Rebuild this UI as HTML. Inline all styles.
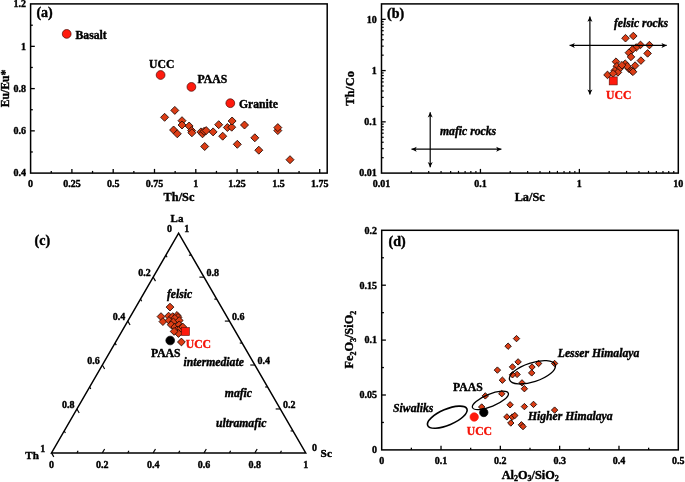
<!DOCTYPE html>
<html><head><meta charset="utf-8"><title>Geochemical plots</title>
<style>html,body{margin:0;padding:0;background:#fff}svg{display:block}</style></head>
<body><svg width="685" height="482" viewBox="0 0 685 482" font-family="Liberation Serif, Times New Roman, serif" font-weight="bold">
<rect width="685" height="482" fill="#fff"/>
<rect x="30.6" y="3.9" width="296.59999999999997" height="169.2" fill="none" stroke="#000" stroke-width="1.5"/>
<text x="30.60" y="187.00" font-size="10" text-anchor="middle" fill="#000" stroke="#000" stroke-width="0.4">0</text>
<line x1="51.25" y1="173.10" x2="51.25" y2="170.90" stroke="#000" stroke-width="1.3"/>
<line x1="71.90" y1="173.10" x2="71.90" y2="168.90" stroke="#000" stroke-width="1.3"/>
<text x="71.90" y="187.00" font-size="10" text-anchor="middle" fill="#000" stroke="#000" stroke-width="0.4">0.25</text>
<line x1="92.55" y1="173.10" x2="92.55" y2="170.90" stroke="#000" stroke-width="1.3"/>
<line x1="113.20" y1="173.10" x2="113.20" y2="168.90" stroke="#000" stroke-width="1.3"/>
<text x="113.20" y="187.00" font-size="10" text-anchor="middle" fill="#000" stroke="#000" stroke-width="0.4">0.5</text>
<line x1="133.85" y1="173.10" x2="133.85" y2="170.90" stroke="#000" stroke-width="1.3"/>
<line x1="154.50" y1="173.10" x2="154.50" y2="168.90" stroke="#000" stroke-width="1.3"/>
<text x="154.50" y="187.00" font-size="10" text-anchor="middle" fill="#000" stroke="#000" stroke-width="0.4">0.75</text>
<line x1="175.15" y1="173.10" x2="175.15" y2="170.90" stroke="#000" stroke-width="1.3"/>
<line x1="195.80" y1="173.10" x2="195.80" y2="168.90" stroke="#000" stroke-width="1.3"/>
<text x="195.80" y="187.00" font-size="10" text-anchor="middle" fill="#000" stroke="#000" stroke-width="0.4">1</text>
<line x1="216.45" y1="173.10" x2="216.45" y2="170.90" stroke="#000" stroke-width="1.3"/>
<line x1="237.10" y1="173.10" x2="237.10" y2="168.90" stroke="#000" stroke-width="1.3"/>
<text x="237.10" y="187.00" font-size="10" text-anchor="middle" fill="#000" stroke="#000" stroke-width="0.4">1.25</text>
<line x1="257.75" y1="173.10" x2="257.75" y2="170.90" stroke="#000" stroke-width="1.3"/>
<line x1="278.40" y1="173.10" x2="278.40" y2="168.90" stroke="#000" stroke-width="1.3"/>
<text x="278.40" y="187.00" font-size="10" text-anchor="middle" fill="#000" stroke="#000" stroke-width="0.4">1.5</text>
<line x1="299.05" y1="173.10" x2="299.05" y2="170.90" stroke="#000" stroke-width="1.3"/>
<line x1="319.70" y1="173.10" x2="319.70" y2="168.90" stroke="#000" stroke-width="1.3"/>
<text x="319.70" y="187.00" font-size="10" text-anchor="middle" fill="#000" stroke="#000" stroke-width="0.4">1.75</text>
<text x="26.00" y="176.40" font-size="10" text-anchor="end" fill="#000" stroke="#000" stroke-width="0.4">0.4</text>
<line x1="30.60" y1="151.97" x2="32.80" y2="151.97" stroke="#000" stroke-width="1.3"/>
<line x1="30.60" y1="130.85" x2="34.80" y2="130.85" stroke="#000" stroke-width="1.3"/>
<text x="26.00" y="134.15" font-size="10" text-anchor="end" fill="#000" stroke="#000" stroke-width="0.4">0.6</text>
<line x1="30.60" y1="109.72" x2="32.80" y2="109.72" stroke="#000" stroke-width="1.3"/>
<line x1="30.60" y1="88.60" x2="34.80" y2="88.60" stroke="#000" stroke-width="1.3"/>
<text x="26.00" y="91.90" font-size="10" text-anchor="end" fill="#000" stroke="#000" stroke-width="0.4">0.8</text>
<line x1="30.60" y1="67.47" x2="32.80" y2="67.47" stroke="#000" stroke-width="1.3"/>
<line x1="30.60" y1="46.35" x2="34.80" y2="46.35" stroke="#000" stroke-width="1.3"/>
<text x="26.00" y="49.65" font-size="10" text-anchor="end" fill="#000" stroke="#000" stroke-width="0.4">1</text>
<line x1="30.60" y1="25.22" x2="32.80" y2="25.22" stroke="#000" stroke-width="1.3"/>
<text x="26.00" y="7.40" font-size="10" text-anchor="end" fill="#000" stroke="#000" stroke-width="0.4">1.2</text>
<text x="0.00" y="0.00" font-size="11.7" text-anchor="middle" fill="#000" stroke="#000" stroke-width="0.4" transform="translate(8.5 88.4) rotate(-90)">Eu/Eu*</text>
<text x="179.00" y="200.80" font-size="12.3" text-anchor="middle" fill="#000" stroke="#000" stroke-width="0.4">Th/Sc</text>
<text x="36.40" y="17.40" font-size="14" text-anchor="start" fill="#000" stroke="#000" stroke-width="0.4">(a)</text>
<circle cx="66.7" cy="33.9" r="4.4" fill="#ff1a0d" stroke="#4a0a05" stroke-width="0.7"/>
<text x="75.50" y="39.20" font-size="11.7" text-anchor="start" fill="#000" stroke="#000" stroke-width="0.4">Basalt</text>
<circle cx="160.6" cy="75.0" r="4.4" fill="#ff1a0d" stroke="#4a0a05" stroke-width="0.7"/>
<text x="149.00" y="67.90" font-size="11.7" text-anchor="start" fill="#000" stroke="#000" stroke-width="0.4">UCC</text>
<circle cx="191.4" cy="86.9" r="4.4" fill="#ff1a0d" stroke="#4a0a05" stroke-width="0.7"/>
<text x="197.50" y="83.00" font-size="11.7" text-anchor="start" fill="#000" stroke="#000" stroke-width="0.4">PAAS</text>
<circle cx="230.3" cy="103.2" r="4.4" fill="#ff1a0d" stroke="#4a0a05" stroke-width="0.7"/>
<text x="239.00" y="108.00" font-size="11.7" text-anchor="start" fill="#000" stroke="#000" stroke-width="0.4">Granite</text>
<path d="M164.6 113.3L168.6 117.3L164.6 121.3L160.6 117.3Z" fill="#dc3d15" stroke="#1e0803" stroke-width="0.85"/>
<path d="M174.8 106.4L178.8 110.4L174.8 114.4L170.8 110.4Z" fill="#dc3d15" stroke="#1e0803" stroke-width="0.85"/>
<path d="M173.6 126.0L177.6 130.0L173.6 134.0L169.6 130.0Z" fill="#dc3d15" stroke="#1e0803" stroke-width="0.85"/>
<path d="M177.3 129.8L181.3 133.8L177.3 137.8L173.3 133.8Z" fill="#dc3d15" stroke="#1e0803" stroke-width="0.85"/>
<path d="M182.0 116.7L186.0 120.7L182.0 124.7L178.0 120.7Z" fill="#dc3d15" stroke="#1e0803" stroke-width="0.85"/>
<path d="M182.0 121.0L186.0 125.0L182.0 129.0L178.0 125.0Z" fill="#dc3d15" stroke="#1e0803" stroke-width="0.85"/>
<path d="M189.1 122.0L193.1 126.0L189.1 130.0L185.1 126.0Z" fill="#dc3d15" stroke="#1e0803" stroke-width="0.85"/>
<path d="M191.6 126.6L195.6 130.6L191.6 134.6L187.6 130.6Z" fill="#dc3d15" stroke="#1e0803" stroke-width="0.85"/>
<path d="M191.9 128.8L195.9 132.8L191.9 136.8L187.9 132.8Z" fill="#dc3d15" stroke="#1e0803" stroke-width="0.85"/>
<path d="M201.0 127.9L205.0 131.9L201.0 135.9L197.0 131.9Z" fill="#dc3d15" stroke="#1e0803" stroke-width="0.85"/>
<path d="M202.5 129.8L206.5 133.8L202.5 137.8L198.5 133.8Z" fill="#dc3d15" stroke="#1e0803" stroke-width="0.85"/>
<path d="M204.1 127.3L208.1 131.3L204.1 135.3L200.1 131.3Z" fill="#dc3d15" stroke="#1e0803" stroke-width="0.85"/>
<path d="M206.2 126.6L210.2 130.6L206.2 134.6L202.2 130.6Z" fill="#dc3d15" stroke="#1e0803" stroke-width="0.85"/>
<path d="M204.7 142.5L208.7 146.5L204.7 150.5L200.7 146.5Z" fill="#dc3d15" stroke="#1e0803" stroke-width="0.85"/>
<path d="M213.1 127.9L217.1 131.9L213.1 135.9L209.1 131.9Z" fill="#dc3d15" stroke="#1e0803" stroke-width="0.85"/>
<path d="M218.7 120.7L222.7 124.7L218.7 128.7L214.7 124.7Z" fill="#dc3d15" stroke="#1e0803" stroke-width="0.85"/>
<path d="M222.7 132.2L226.7 136.2L222.7 140.2L218.7 136.2Z" fill="#dc3d15" stroke="#1e0803" stroke-width="0.85"/>
<path d="M227.4 123.5L231.4 127.5L227.4 131.5L223.4 127.5Z" fill="#dc3d15" stroke="#1e0803" stroke-width="0.85"/>
<path d="M231.7 123.2L235.7 127.2L231.7 131.2L227.7 127.2Z" fill="#dc3d15" stroke="#1e0803" stroke-width="0.85"/>
<path d="M232.1 117.0L236.1 121.0L232.1 125.0L228.1 121.0Z" fill="#dc3d15" stroke="#1e0803" stroke-width="0.85"/>
<path d="M237.3 140.3L241.3 144.3L237.3 148.3L233.3 144.3Z" fill="#dc3d15" stroke="#1e0803" stroke-width="0.85"/>
<path d="M244.5 121.0L248.5 125.0L244.5 129.0L240.5 125.0Z" fill="#dc3d15" stroke="#1e0803" stroke-width="0.85"/>
<path d="M254.8 133.8L258.8 137.8L254.8 141.8L250.8 137.8Z" fill="#dc3d15" stroke="#1e0803" stroke-width="0.85"/>
<path d="M258.8 146.2L262.8 150.2L258.8 154.2L254.8 150.2Z" fill="#dc3d15" stroke="#1e0803" stroke-width="0.85"/>
<path d="M277.8 126.6L281.8 130.6L277.8 134.6L273.8 130.6Z" fill="#dc3d15" stroke="#1e0803" stroke-width="0.85"/>
<path d="M277.8 123.6L281.8 127.6L277.8 131.6L273.8 127.6Z" fill="#dc3d15" stroke="#1e0803" stroke-width="0.85"/>
<path d="M290.0 155.7L294.0 159.7L290.0 163.7L286.0 159.7Z" fill="#dc3d15" stroke="#1e0803" stroke-width="0.85"/>
<rect x="381.5" y="3.9" width="296.79999999999995" height="169.2" fill="none" stroke="#000" stroke-width="1.5"/>
<text x="381.50" y="187.00" font-size="10" text-anchor="middle" fill="#000" stroke="#000" stroke-width="0.4">0.01</text>
<line x1="411.28" y1="173.10" x2="411.28" y2="170.90" stroke="#000" stroke-width="1.2"/>
<line x1="428.70" y1="173.10" x2="428.70" y2="170.90" stroke="#000" stroke-width="1.2"/>
<line x1="441.06" y1="173.10" x2="441.06" y2="170.90" stroke="#000" stroke-width="1.2"/>
<line x1="450.65" y1="173.10" x2="450.65" y2="170.90" stroke="#000" stroke-width="1.2"/>
<line x1="458.49" y1="173.10" x2="458.49" y2="170.90" stroke="#000" stroke-width="1.2"/>
<line x1="465.11" y1="173.10" x2="465.11" y2="170.90" stroke="#000" stroke-width="1.2"/>
<line x1="470.85" y1="173.10" x2="470.85" y2="170.90" stroke="#000" stroke-width="1.2"/>
<line x1="475.91" y1="173.10" x2="475.91" y2="170.90" stroke="#000" stroke-width="1.2"/>
<line x1="480.43" y1="173.10" x2="480.43" y2="168.90" stroke="#000" stroke-width="1.3"/>
<text x="480.43" y="187.00" font-size="10" text-anchor="middle" fill="#000" stroke="#000" stroke-width="0.4">0.1</text>
<line x1="510.22" y1="173.10" x2="510.22" y2="170.90" stroke="#000" stroke-width="1.2"/>
<line x1="527.64" y1="173.10" x2="527.64" y2="170.90" stroke="#000" stroke-width="1.2"/>
<line x1="540.00" y1="173.10" x2="540.00" y2="170.90" stroke="#000" stroke-width="1.2"/>
<line x1="549.58" y1="173.10" x2="549.58" y2="170.90" stroke="#000" stroke-width="1.2"/>
<line x1="557.42" y1="173.10" x2="557.42" y2="170.90" stroke="#000" stroke-width="1.2"/>
<line x1="564.04" y1="173.10" x2="564.04" y2="170.90" stroke="#000" stroke-width="1.2"/>
<line x1="569.78" y1="173.10" x2="569.78" y2="170.90" stroke="#000" stroke-width="1.2"/>
<line x1="574.84" y1="173.10" x2="574.84" y2="170.90" stroke="#000" stroke-width="1.2"/>
<line x1="579.37" y1="173.10" x2="579.37" y2="168.90" stroke="#000" stroke-width="1.3"/>
<text x="579.37" y="187.00" font-size="10" text-anchor="middle" fill="#000" stroke="#000" stroke-width="0.4">1</text>
<line x1="609.15" y1="173.10" x2="609.15" y2="170.90" stroke="#000" stroke-width="1.2"/>
<line x1="626.57" y1="173.10" x2="626.57" y2="170.90" stroke="#000" stroke-width="1.2"/>
<line x1="638.93" y1="173.10" x2="638.93" y2="170.90" stroke="#000" stroke-width="1.2"/>
<line x1="648.52" y1="173.10" x2="648.52" y2="170.90" stroke="#000" stroke-width="1.2"/>
<line x1="656.35" y1="173.10" x2="656.35" y2="170.90" stroke="#000" stroke-width="1.2"/>
<line x1="662.98" y1="173.10" x2="662.98" y2="170.90" stroke="#000" stroke-width="1.2"/>
<line x1="668.71" y1="173.10" x2="668.71" y2="170.90" stroke="#000" stroke-width="1.2"/>
<line x1="673.77" y1="173.10" x2="673.77" y2="170.90" stroke="#000" stroke-width="1.2"/>
<text x="678.30" y="187.00" font-size="10" text-anchor="middle" fill="#000" stroke="#000" stroke-width="0.4">10</text>
<text x="376.80" y="176.40" font-size="10" text-anchor="end" fill="#000" stroke="#000" stroke-width="0.4">0.01</text>
<line x1="381.50" y1="157.67" x2="383.70" y2="157.67" stroke="#000" stroke-width="1.2"/>
<line x1="381.50" y1="148.64" x2="383.70" y2="148.64" stroke="#000" stroke-width="1.2"/>
<line x1="381.50" y1="142.24" x2="383.70" y2="142.24" stroke="#000" stroke-width="1.2"/>
<line x1="381.50" y1="137.27" x2="383.70" y2="137.27" stroke="#000" stroke-width="1.2"/>
<line x1="381.50" y1="133.21" x2="383.70" y2="133.21" stroke="#000" stroke-width="1.2"/>
<line x1="381.50" y1="129.78" x2="383.70" y2="129.78" stroke="#000" stroke-width="1.2"/>
<line x1="381.50" y1="126.81" x2="383.70" y2="126.81" stroke="#000" stroke-width="1.2"/>
<line x1="381.50" y1="124.19" x2="383.70" y2="124.19" stroke="#000" stroke-width="1.2"/>
<line x1="381.50" y1="121.84" x2="385.70" y2="121.84" stroke="#000" stroke-width="1.3"/>
<text x="376.80" y="125.14" font-size="10" text-anchor="end" fill="#000" stroke="#000" stroke-width="0.4">0.1</text>
<line x1="381.50" y1="106.41" x2="383.70" y2="106.41" stroke="#000" stroke-width="1.2"/>
<line x1="381.50" y1="97.39" x2="383.70" y2="97.39" stroke="#000" stroke-width="1.2"/>
<line x1="381.50" y1="90.98" x2="383.70" y2="90.98" stroke="#000" stroke-width="1.2"/>
<line x1="381.50" y1="86.02" x2="383.70" y2="86.02" stroke="#000" stroke-width="1.2"/>
<line x1="381.50" y1="81.96" x2="383.70" y2="81.96" stroke="#000" stroke-width="1.2"/>
<line x1="381.50" y1="78.53" x2="383.70" y2="78.53" stroke="#000" stroke-width="1.2"/>
<line x1="381.50" y1="75.55" x2="383.70" y2="75.55" stroke="#000" stroke-width="1.2"/>
<line x1="381.50" y1="72.93" x2="383.70" y2="72.93" stroke="#000" stroke-width="1.2"/>
<line x1="381.50" y1="70.59" x2="385.70" y2="70.59" stroke="#000" stroke-width="1.3"/>
<text x="376.80" y="73.89" font-size="10" text-anchor="end" fill="#000" stroke="#000" stroke-width="0.4">1</text>
<line x1="381.50" y1="55.16" x2="383.70" y2="55.16" stroke="#000" stroke-width="1.2"/>
<line x1="381.50" y1="46.13" x2="383.70" y2="46.13" stroke="#000" stroke-width="1.2"/>
<line x1="381.50" y1="39.73" x2="383.70" y2="39.73" stroke="#000" stroke-width="1.2"/>
<line x1="381.50" y1="34.76" x2="383.70" y2="34.76" stroke="#000" stroke-width="1.2"/>
<line x1="381.50" y1="30.70" x2="383.70" y2="30.70" stroke="#000" stroke-width="1.2"/>
<line x1="381.50" y1="27.27" x2="383.70" y2="27.27" stroke="#000" stroke-width="1.2"/>
<line x1="381.50" y1="24.30" x2="383.70" y2="24.30" stroke="#000" stroke-width="1.2"/>
<line x1="381.50" y1="21.68" x2="383.70" y2="21.68" stroke="#000" stroke-width="1.2"/>
<line x1="381.50" y1="19.33" x2="385.70" y2="19.33" stroke="#000" stroke-width="1.3"/>
<text x="376.80" y="22.63" font-size="10" text-anchor="end" fill="#000" stroke="#000" stroke-width="0.4">10</text>
<text x="0.00" y="0.00" font-size="12.3" text-anchor="middle" fill="#000" stroke="#000" stroke-width="0.4" letter-spacing="0.3" transform="translate(354.2 88.2) rotate(-90)">Th/Co</text>
<text x="529.70" y="200.90" font-size="12.3" text-anchor="middle" fill="#000" stroke="#000" stroke-width="0.4">La/Sc</text>
<text x="387.00" y="18.00" font-size="14" text-anchor="start" fill="#000" stroke="#000" stroke-width="0.4">(b)</text>
<line x1="430.20" y1="112.20" x2="430.20" y2="167.30" stroke="#000" stroke-width="1.2"/>
<path d="M430.20 112.20L427.70 117.40L430.20 116.10L432.70 117.40Z" fill="#000"/>
<path d="M430.20 167.30L432.70 162.10L430.20 163.40L427.70 162.10Z" fill="#000"/>
<line x1="411.50" y1="149.20" x2="501.40" y2="149.20" stroke="#000" stroke-width="1.2"/>
<path d="M411.50 149.20L416.70 151.70L415.40 149.20L416.70 146.70Z" fill="#000"/>
<path d="M501.40 149.20L496.20 146.70L497.50 149.20L496.20 151.70Z" fill="#000"/>
<text x="440.00" y="135.40" font-size="11.7" text-anchor="start" fill="#000" stroke="#000" stroke-width="0.4" font-style="italic">mafic rocks</text>
<text x="613.90" y="26.60" font-size="11.7" text-anchor="start" fill="#000" stroke="#000" stroke-width="0.4" font-style="italic">felsic rocks</text>
<path d="M625.5 34.4L629.3 38.2L625.5 42.0L621.7 38.2Z" fill="#dc3d15" stroke="#1e0803" stroke-width="0.85"/>
<path d="M633.3 32.2L637.1 36.0L633.3 39.8L629.5 36.0Z" fill="#dc3d15" stroke="#1e0803" stroke-width="0.85"/>
<path d="M640.5 41.1L644.3 44.9L640.5 48.7L636.7 44.9Z" fill="#dc3d15" stroke="#1e0803" stroke-width="0.85"/>
<path d="M649.4 41.3L653.2 45.1L649.4 48.9L645.6 45.1Z" fill="#dc3d15" stroke="#1e0803" stroke-width="0.85"/>
<path d="M636.2 43.7L640.0 47.5L636.2 51.3L632.4 47.5Z" fill="#dc3d15" stroke="#1e0803" stroke-width="0.85"/>
<path d="M632.4 45.8L636.2 49.6L632.4 53.4L628.6 49.6Z" fill="#dc3d15" stroke="#1e0803" stroke-width="0.85"/>
<path d="M628.9 48.9L632.7 52.7L628.9 56.5L625.1 52.7Z" fill="#dc3d15" stroke="#1e0803" stroke-width="0.85"/>
<path d="M647.6 49.6L651.4 53.4L647.6 57.2L643.8 53.4Z" fill="#dc3d15" stroke="#1e0803" stroke-width="0.85"/>
<path d="M631.0 53.1L634.8 56.9L631.0 60.7L627.2 56.9Z" fill="#dc3d15" stroke="#1e0803" stroke-width="0.85"/>
<path d="M640.9 56.8L644.7 60.6L640.9 64.4L637.1 60.6Z" fill="#dc3d15" stroke="#1e0803" stroke-width="0.85"/>
<path d="M616.0 57.9L619.8 61.7L616.0 65.5L612.2 61.7Z" fill="#dc3d15" stroke="#1e0803" stroke-width="0.85"/>
<path d="M625.2 59.9L629.0 63.7L625.2 67.5L621.4 63.7Z" fill="#dc3d15" stroke="#1e0803" stroke-width="0.85"/>
<path d="M635.1 61.8L638.9 65.6L635.1 69.4L631.3 65.6Z" fill="#dc3d15" stroke="#1e0803" stroke-width="0.85"/>
<path d="M616.9 62.4L620.7 66.2L616.9 70.0L613.1 66.2Z" fill="#dc3d15" stroke="#1e0803" stroke-width="0.85"/>
<path d="M620.0 64.5L623.8 68.3L620.0 72.1L616.2 68.3Z" fill="#dc3d15" stroke="#1e0803" stroke-width="0.85"/>
<path d="M628.9 64.9L632.7 68.7L628.9 72.5L625.1 68.7Z" fill="#dc3d15" stroke="#1e0803" stroke-width="0.85"/>
<path d="M614.8 66.6L618.6 70.4L614.8 74.2L611.0 70.4Z" fill="#dc3d15" stroke="#1e0803" stroke-width="0.85"/>
<path d="M631.8 67.0L635.6 70.8L631.8 74.6L628.0 70.8Z" fill="#dc3d15" stroke="#1e0803" stroke-width="0.85"/>
<path d="M617.9 68.6L621.7 72.4L617.9 76.2L614.1 72.4Z" fill="#dc3d15" stroke="#1e0803" stroke-width="0.85"/>
<path d="M607.5 71.1L611.3 74.9L607.5 78.7L603.7 74.9Z" fill="#dc3d15" stroke="#1e0803" stroke-width="0.85"/>
<path d="M613.1 69.7L616.9 73.5L613.1 77.3L609.3 73.5Z" fill="#dc3d15" stroke="#1e0803" stroke-width="0.85"/>
<path d="M627.2 62.4L631.0 66.2L627.2 70.0L623.4 66.2Z" fill="#dc3d15" stroke="#1e0803" stroke-width="0.85"/>
<path d="M622.0 61.4L625.8 65.2L622.0 69.0L618.2 65.2Z" fill="#dc3d15" stroke="#1e0803" stroke-width="0.85"/>
<path d="M633.0 68.0L636.8 71.8L633.0 75.6L629.2 71.8Z" fill="#dc3d15" stroke="#1e0803" stroke-width="0.85"/>
<line x1="589.90" y1="16.60" x2="589.90" y2="94.60" stroke="#000" stroke-width="1.2"/>
<path d="M589.90 16.60L587.40 21.80L589.90 20.50L592.40 21.80Z" fill="#000"/>
<path d="M589.90 94.60L592.40 89.40L589.90 90.70L587.40 89.40Z" fill="#000"/>
<line x1="569.60" y1="45.40" x2="666.70" y2="45.40" stroke="#000" stroke-width="1.2"/>
<path d="M569.60 45.40L574.80 47.90L573.50 45.40L574.80 42.90Z" fill="#000"/>
<path d="M666.70 45.40L661.50 42.90L662.80 45.40L661.50 47.90Z" fill="#000"/>
<rect x="609.2" y="76.9" width="8.0" height="8.0" fill="#ff1a0d" stroke="#5a1008" stroke-width="0.6"/>
<text x="606.00" y="98.60" font-size="11.7" text-anchor="start" fill="#f5160a" stroke="#f5160a" stroke-width="0.4">UCC</text>
<path d="M51.5 452.9L305.7 452.9L178.6 233.2Z" fill="none" stroke="#000" stroke-width="1.5" stroke-linejoin="miter"/>
<text x="51.50" y="468.00" font-size="10" text-anchor="middle" fill="#000" stroke="#000" stroke-width="0.4">0</text>
<line x1="76.92" y1="452.90" x2="78.12" y2="450.82" stroke="#000" stroke-width="1.15"/>
<line x1="165.89" y1="255.17" x2="167.09" y2="257.25" stroke="#000" stroke-width="1.15"/>
<line x1="292.99" y1="430.93" x2="290.59" y2="430.93" stroke="#000" stroke-width="1.15"/>
<line x1="102.34" y1="452.90" x2="104.64" y2="448.92" stroke="#000" stroke-width="1.15"/>
<text x="102.34" y="468.00" font-size="10" text-anchor="middle" fill="#000" stroke="#000" stroke-width="0.4">0.2</text>
<line x1="153.18" y1="277.14" x2="155.48" y2="281.12" stroke="#000" stroke-width="1.15"/>
<text x="150.68" y="275.84" font-size="10" text-anchor="end" fill="#000" stroke="#000" stroke-width="0.4">0.2</text>
<line x1="280.28" y1="408.96" x2="275.68" y2="408.96" stroke="#000" stroke-width="1.15"/>
<text x="282.88" y="407.96" font-size="10" text-anchor="start" fill="#000" stroke="#000" stroke-width="0.4">0.2</text>
<line x1="127.76" y1="452.90" x2="128.96" y2="450.82" stroke="#000" stroke-width="1.15"/>
<line x1="140.47" y1="299.11" x2="141.67" y2="301.19" stroke="#000" stroke-width="1.15"/>
<line x1="267.57" y1="386.99" x2="265.17" y2="386.99" stroke="#000" stroke-width="1.15"/>
<line x1="153.18" y1="452.90" x2="155.48" y2="448.92" stroke="#000" stroke-width="1.15"/>
<text x="153.18" y="468.00" font-size="10" text-anchor="middle" fill="#000" stroke="#000" stroke-width="0.4">0.4</text>
<line x1="127.76" y1="321.08" x2="130.06" y2="325.06" stroke="#000" stroke-width="1.15"/>
<text x="125.26" y="319.78" font-size="10" text-anchor="end" fill="#000" stroke="#000" stroke-width="0.4">0.4</text>
<line x1="254.86" y1="365.02" x2="250.26" y2="365.02" stroke="#000" stroke-width="1.15"/>
<text x="257.46" y="364.02" font-size="10" text-anchor="start" fill="#000" stroke="#000" stroke-width="0.4">0.4</text>
<line x1="178.60" y1="452.90" x2="179.80" y2="450.82" stroke="#000" stroke-width="1.15"/>
<line x1="115.05" y1="343.05" x2="116.25" y2="345.13" stroke="#000" stroke-width="1.15"/>
<line x1="242.15" y1="343.05" x2="239.75" y2="343.05" stroke="#000" stroke-width="1.15"/>
<line x1="204.02" y1="452.90" x2="206.32" y2="448.92" stroke="#000" stroke-width="1.15"/>
<text x="204.02" y="468.00" font-size="10" text-anchor="middle" fill="#000" stroke="#000" stroke-width="0.4">0.6</text>
<line x1="102.34" y1="365.02" x2="104.64" y2="369.00" stroke="#000" stroke-width="1.15"/>
<text x="99.84" y="363.72" font-size="10" text-anchor="end" fill="#000" stroke="#000" stroke-width="0.4">0.6</text>
<line x1="229.44" y1="321.08" x2="224.84" y2="321.08" stroke="#000" stroke-width="1.15"/>
<text x="232.04" y="320.08" font-size="10" text-anchor="start" fill="#000" stroke="#000" stroke-width="0.4">0.6</text>
<line x1="229.44" y1="452.90" x2="230.64" y2="450.82" stroke="#000" stroke-width="1.15"/>
<line x1="89.63" y1="386.99" x2="90.83" y2="389.07" stroke="#000" stroke-width="1.15"/>
<line x1="216.73" y1="299.11" x2="214.33" y2="299.11" stroke="#000" stroke-width="1.15"/>
<line x1="254.86" y1="452.90" x2="257.16" y2="448.92" stroke="#000" stroke-width="1.15"/>
<text x="254.86" y="468.00" font-size="10" text-anchor="middle" fill="#000" stroke="#000" stroke-width="0.4">0.8</text>
<line x1="76.92" y1="408.96" x2="79.22" y2="412.94" stroke="#000" stroke-width="1.15"/>
<text x="74.42" y="407.66" font-size="10" text-anchor="end" fill="#000" stroke="#000" stroke-width="0.4">0.8</text>
<line x1="204.02" y1="277.14" x2="199.42" y2="277.14" stroke="#000" stroke-width="1.15"/>
<text x="206.62" y="276.14" font-size="10" text-anchor="start" fill="#000" stroke="#000" stroke-width="0.4">0.8</text>
<line x1="280.28" y1="452.90" x2="281.48" y2="450.82" stroke="#000" stroke-width="1.15"/>
<line x1="64.21" y1="430.93" x2="65.41" y2="433.01" stroke="#000" stroke-width="1.15"/>
<line x1="191.31" y1="255.17" x2="188.91" y2="255.17" stroke="#000" stroke-width="1.15"/>
<text x="305.70" y="468.00" font-size="10" text-anchor="middle" fill="#000" stroke="#000" stroke-width="0.4">1</text>
<line x1="51.50" y1="452.90" x2="53.80" y2="456.88" stroke="#000" stroke-width="1.15"/>
<text x="169.40" y="231.50" font-size="10" text-anchor="middle" fill="#000" stroke="#000" stroke-width="0.4">0</text>
<text x="186.80" y="231.50" font-size="10" text-anchor="middle" fill="#000" stroke="#000" stroke-width="0.4">1</text>
<text x="177.00" y="221.50" font-size="11" text-anchor="middle" fill="#000" stroke="#000" stroke-width="0.4">La</text>
<text x="25.30" y="458.80" font-size="11" text-anchor="start" fill="#000" stroke="#000" stroke-width="0.4">Th</text>
<text x="42.70" y="451.80" font-size="10" text-anchor="middle" fill="#000" stroke="#000" stroke-width="0.4">1</text>
<text x="314.50" y="451.40" font-size="10" text-anchor="middle" fill="#000" stroke="#000" stroke-width="0.4">0</text>
<text x="320.60" y="456.80" font-size="11.3" text-anchor="start" fill="#000" stroke="#000" stroke-width="0.4">Sc</text>
<text x="34.60" y="245.20" font-size="14" text-anchor="start" fill="#000" stroke="#000" stroke-width="0.4">(c)</text>
<text x="166.90" y="297.90" font-size="11.7" text-anchor="start" fill="#000" stroke="#000" stroke-width="0.4" font-style="italic">felsic</text>
<text x="183.50" y="365.60" font-size="11.7" text-anchor="start" fill="#000" stroke="#000" stroke-width="0.4" font-style="italic">intermediate</text>
<text x="224.80" y="397.40" font-size="11.7" text-anchor="start" fill="#000" stroke="#000" stroke-width="0.4" font-style="italic">mafic</text>
<text x="215.90" y="427.10" font-size="11.7" text-anchor="start" fill="#000" stroke="#000" stroke-width="0.4" font-style="italic">ultramafic</text>
<path d="M170.0 303.2L173.9 307.1L170.0 311.0L166.1 307.1Z" fill="#dc3d15" stroke="#1e0803" stroke-width="0.85"/>
<path d="M161.0 312.7L164.9 316.6L161.0 320.5L157.1 316.6Z" fill="#dc3d15" stroke="#1e0803" stroke-width="0.85"/>
<path d="M168.6 312.2L172.5 316.1L168.6 320.0L164.7 316.1Z" fill="#dc3d15" stroke="#1e0803" stroke-width="0.85"/>
<path d="M172.7 312.7L176.6 316.6L172.7 320.5L168.8 316.6Z" fill="#dc3d15" stroke="#1e0803" stroke-width="0.85"/>
<path d="M177.0 311.5L180.9 315.4L177.0 319.3L173.1 315.4Z" fill="#dc3d15" stroke="#1e0803" stroke-width="0.85"/>
<path d="M178.0 313.4L181.9 317.3L178.0 321.2L174.1 317.3Z" fill="#dc3d15" stroke="#1e0803" stroke-width="0.85"/>
<path d="M174.8 314.4L178.7 318.3L174.8 322.2L170.9 318.3Z" fill="#dc3d15" stroke="#1e0803" stroke-width="0.85"/>
<path d="M162.9 317.7L166.8 321.6L162.9 325.5L159.0 321.6Z" fill="#dc3d15" stroke="#1e0803" stroke-width="0.85"/>
<path d="M169.0 316.6L172.9 320.5L169.0 324.4L165.1 320.5Z" fill="#dc3d15" stroke="#1e0803" stroke-width="0.85"/>
<path d="M173.4 318.0L177.3 321.9L173.4 325.8L169.5 321.9Z" fill="#dc3d15" stroke="#1e0803" stroke-width="0.85"/>
<path d="M179.2 316.6L183.1 320.5L179.2 324.4L175.3 320.5Z" fill="#dc3d15" stroke="#1e0803" stroke-width="0.85"/>
<path d="M171.2 320.9L175.1 324.8L171.2 328.7L167.3 324.8Z" fill="#dc3d15" stroke="#1e0803" stroke-width="0.85"/>
<path d="M174.8 323.1L178.7 327.0L174.8 330.9L170.9 327.0Z" fill="#dc3d15" stroke="#1e0803" stroke-width="0.85"/>
<path d="M179.2 320.9L183.1 324.8L179.2 328.7L175.3 324.8Z" fill="#dc3d15" stroke="#1e0803" stroke-width="0.85"/>
<path d="M177.0 326.0L180.9 329.9L177.0 333.8L173.1 329.9Z" fill="#dc3d15" stroke="#1e0803" stroke-width="0.85"/>
<path d="M180.6 324.6L184.5 328.5L180.6 332.4L176.7 328.5Z" fill="#dc3d15" stroke="#1e0803" stroke-width="0.85"/>
<path d="M182.8 323.1L186.7 327.0L182.8 330.9L178.9 327.0Z" fill="#dc3d15" stroke="#1e0803" stroke-width="0.85"/>
<path d="M178.5 329.6L182.4 333.5L178.5 337.4L174.6 333.5Z" fill="#dc3d15" stroke="#1e0803" stroke-width="0.85"/>
<path d="M181.4 338.1L185.3 342.0L181.4 345.9L177.5 342.0Z" fill="#dc3d15" stroke="#1e0803" stroke-width="0.85"/>
<path d="M174.1 327.5L178.0 331.4L174.1 335.3L170.2 331.4Z" fill="#dc3d15" stroke="#1e0803" stroke-width="0.85"/>
<rect x="181.4" y="327.5" width="8.0" height="8.0" fill="#ff1a0d" stroke="#5a1008" stroke-width="0.6"/>
<circle cx="170.2" cy="340.5" r="4.35" fill="#000" stroke="#000" stroke-width="0.7"/>
<text x="185.70" y="347.80" font-size="11.7" text-anchor="start" fill="#f5160a" stroke="#f5160a" stroke-width="0.4">UCC</text>
<text x="150.90" y="357.00" font-size="11.7" text-anchor="start" fill="#000" stroke="#000" stroke-width="0.4">PAAS</text>
<rect x="381.7" y="230.3" width="296.59999999999997" height="219.59999999999997" fill="none" stroke="#000" stroke-width="1.5"/>
<text x="381.70" y="464.30" font-size="10" text-anchor="middle" fill="#000" stroke="#000" stroke-width="0.4">0</text>
<line x1="411.36" y1="449.90" x2="411.36" y2="447.70" stroke="#000" stroke-width="1.3"/>
<line x1="441.02" y1="449.90" x2="441.02" y2="445.70" stroke="#000" stroke-width="1.3"/>
<text x="441.02" y="464.30" font-size="10" text-anchor="middle" fill="#000" stroke="#000" stroke-width="0.4">0.1</text>
<line x1="470.68" y1="449.90" x2="470.68" y2="447.70" stroke="#000" stroke-width="1.3"/>
<line x1="500.34" y1="449.90" x2="500.34" y2="445.70" stroke="#000" stroke-width="1.3"/>
<text x="500.34" y="464.30" font-size="10" text-anchor="middle" fill="#000" stroke="#000" stroke-width="0.4">0.2</text>
<line x1="530.00" y1="449.90" x2="530.00" y2="447.70" stroke="#000" stroke-width="1.3"/>
<line x1="559.66" y1="449.90" x2="559.66" y2="445.70" stroke="#000" stroke-width="1.3"/>
<text x="559.66" y="464.30" font-size="10" text-anchor="middle" fill="#000" stroke="#000" stroke-width="0.4">0.3</text>
<line x1="589.32" y1="449.90" x2="589.32" y2="447.70" stroke="#000" stroke-width="1.3"/>
<line x1="618.98" y1="449.90" x2="618.98" y2="445.70" stroke="#000" stroke-width="1.3"/>
<text x="618.98" y="464.30" font-size="10" text-anchor="middle" fill="#000" stroke="#000" stroke-width="0.4">0.4</text>
<line x1="648.64" y1="449.90" x2="648.64" y2="447.70" stroke="#000" stroke-width="1.3"/>
<text x="678.30" y="464.30" font-size="10" text-anchor="middle" fill="#000" stroke="#000" stroke-width="0.4">0.5</text>
<text x="377.00" y="453.20" font-size="10" text-anchor="end" fill="#000" stroke="#000" stroke-width="0.4">0</text>
<line x1="381.70" y1="422.45" x2="383.90" y2="422.45" stroke="#000" stroke-width="1.3"/>
<line x1="381.70" y1="395.00" x2="385.90" y2="395.00" stroke="#000" stroke-width="1.3"/>
<text x="377.00" y="398.30" font-size="10" text-anchor="end" fill="#000" stroke="#000" stroke-width="0.4">0.05</text>
<line x1="381.70" y1="367.55" x2="383.90" y2="367.55" stroke="#000" stroke-width="1.3"/>
<line x1="381.70" y1="340.10" x2="385.90" y2="340.10" stroke="#000" stroke-width="1.3"/>
<text x="377.00" y="343.40" font-size="10" text-anchor="end" fill="#000" stroke="#000" stroke-width="0.4">0.1</text>
<line x1="381.70" y1="312.65" x2="383.90" y2="312.65" stroke="#000" stroke-width="1.3"/>
<line x1="381.70" y1="285.20" x2="385.90" y2="285.20" stroke="#000" stroke-width="1.3"/>
<text x="377.00" y="288.50" font-size="10" text-anchor="end" fill="#000" stroke="#000" stroke-width="0.4">0.15</text>
<line x1="381.70" y1="257.75" x2="383.90" y2="257.75" stroke="#000" stroke-width="1.3"/>
<text x="377.00" y="233.60" font-size="10" text-anchor="end" fill="#000" stroke="#000" stroke-width="0.4">0.2</text>
<text font-size="12.3" stroke="#000" stroke-width="0.4" text-anchor="middle" transform="translate(353.2 339.7) rotate(-90)">Fe<tspan font-size="8" dy="2.5">2</tspan><tspan dy="-2.5">O</tspan><tspan font-size="8" dy="2.5">3</tspan><tspan dy="-2.5">/SiO</tspan><tspan font-size="8" dy="2.5">2</tspan></text>
<text font-size="12.3" stroke="#000" stroke-width="0.4" text-anchor="middle" x="530.2" y="478.8">Al<tspan font-size="8" dy="2.5">2</tspan><tspan dy="-2.5">O</tspan><tspan font-size="8" dy="2.5">3</tspan><tspan dy="-2.5">/SiO</tspan><tspan font-size="8" dy="2.5">2</tspan></text>
<text x="388.50" y="246.20" font-size="14" text-anchor="start" fill="#000" stroke="#000" stroke-width="0.4">(d)</text>
<path d="M516.5 335.4L519.7 338.6L516.5 341.8L513.3 338.6Z" fill="#dc3d15" stroke="#1e0803" stroke-width="0.9"/>
<path d="M508.1 343.0L511.3 346.2L508.1 349.4L504.9 346.2Z" fill="#dc3d15" stroke="#1e0803" stroke-width="0.9"/>
<path d="M518.1 358.7L521.3 361.9L518.1 365.1L514.9 361.9Z" fill="#dc3d15" stroke="#1e0803" stroke-width="0.9"/>
<path d="M512.5 363.7L515.7 366.9L512.5 370.1L509.3 366.9Z" fill="#dc3d15" stroke="#1e0803" stroke-width="0.9"/>
<path d="M497.4 366.9L500.6 370.1L497.4 373.3L494.2 370.1Z" fill="#dc3d15" stroke="#1e0803" stroke-width="0.9"/>
<path d="M532.0 363.8L535.2 367.0L532.0 370.2L528.8 367.0Z" fill="#dc3d15" stroke="#1e0803" stroke-width="0.9"/>
<path d="M538.6 360.3L541.8 363.5L538.6 366.7L535.4 363.5Z" fill="#dc3d15" stroke="#1e0803" stroke-width="0.9"/>
<path d="M554.6 360.3L557.8 363.5L554.6 366.7L551.4 363.5Z" fill="#dc3d15" stroke="#1e0803" stroke-width="0.9"/>
<path d="M531.7 369.7L534.9 372.9L531.7 376.1L528.5 372.9Z" fill="#dc3d15" stroke="#1e0803" stroke-width="0.9"/>
<path d="M517.1 371.2L520.3 374.4L517.1 377.6L513.9 374.4Z" fill="#dc3d15" stroke="#1e0803" stroke-width="0.9"/>
<path d="M512.5 371.6L515.7 374.8L512.5 378.0L509.3 374.8Z" fill="#dc3d15" stroke="#1e0803" stroke-width="0.9"/>
<path d="M502.4 377.0L505.6 380.2L502.4 383.4L499.2 380.2Z" fill="#dc3d15" stroke="#1e0803" stroke-width="0.9"/>
<path d="M522.0 379.7L525.2 382.9L522.0 386.1L518.8 382.9Z" fill="#dc3d15" stroke="#1e0803" stroke-width="0.9"/>
<path d="M524.4 385.5L527.6 388.7L524.4 391.9L521.2 388.7Z" fill="#dc3d15" stroke="#1e0803" stroke-width="0.9"/>
<path d="M501.8 390.5L505.0 393.7L501.8 396.9L498.6 393.7Z" fill="#dc3d15" stroke="#1e0803" stroke-width="0.9"/>
<path d="M485.3 392.7L488.5 395.9L485.3 399.1L482.1 395.9Z" fill="#dc3d15" stroke="#1e0803" stroke-width="0.9"/>
<path d="M510.1 401.6L513.3 404.8L510.1 408.0L506.9 404.8Z" fill="#dc3d15" stroke="#1e0803" stroke-width="0.9"/>
<path d="M524.4 403.4L527.6 406.6L524.4 409.8L521.2 406.6Z" fill="#dc3d15" stroke="#1e0803" stroke-width="0.9"/>
<path d="M533.5 401.2L536.7 404.4L533.5 407.6L530.3 404.4Z" fill="#dc3d15" stroke="#1e0803" stroke-width="0.9"/>
<path d="M554.6 406.9L557.8 410.1L554.6 413.3L551.4 410.1Z" fill="#dc3d15" stroke="#1e0803" stroke-width="0.9"/>
<path d="M481.7 403.8L484.9 407.0L481.7 410.2L478.5 407.0Z" fill="#dc3d15" stroke="#1e0803" stroke-width="0.9"/>
<path d="M506.9 413.7L510.1 416.9L506.9 420.1L503.7 416.9Z" fill="#dc3d15" stroke="#1e0803" stroke-width="0.9"/>
<path d="M512.3 413.8L515.5 417.0L512.3 420.2L509.1 417.0Z" fill="#dc3d15" stroke="#1e0803" stroke-width="0.9"/>
<path d="M514.8 412.3L518.0 415.5L514.8 418.7L511.6 415.5Z" fill="#dc3d15" stroke="#1e0803" stroke-width="0.9"/>
<path d="M510.8 419.8L514.0 423.0L510.8 426.2L507.6 423.0Z" fill="#dc3d15" stroke="#1e0803" stroke-width="0.9"/>
<path d="M521.4 421.6L524.6 424.8L521.4 428.0L518.2 424.8Z" fill="#dc3d15" stroke="#1e0803" stroke-width="0.9"/>
<path d="M523.0 423.4L526.2 426.6L523.0 429.8L519.8 426.6Z" fill="#dc3d15" stroke="#1e0803" stroke-width="0.9"/>
<ellipse cx="0" cy="0" rx="21.3" ry="8" fill="none" stroke="#000" stroke-width="1.6" transform="translate(447.3 417.2) rotate(-23)"/>
<ellipse cx="0" cy="0" rx="19.3" ry="6.2" fill="none" stroke="#000" stroke-width="1.3" transform="translate(490.4 400.4) rotate(-22)"/>
<ellipse cx="0" cy="0" rx="24" ry="9.5" fill="none" stroke="#000" stroke-width="1.3" transform="translate(532.4 372.3) rotate(-18)"/>
<circle cx="474.2" cy="417.0" r="4.2" fill="#ff1a0d" stroke="#ff1a0d" stroke-width="0.7"/>
<circle cx="483.8" cy="412.5" r="4.2" fill="#000" stroke="#000" stroke-width="0.7"/>
<text x="453.00" y="390.80" font-size="11.7" text-anchor="start" fill="#000" stroke="#000" stroke-width="0.4">PAAS</text>
<text x="393.10" y="411.50" font-size="11.7" text-anchor="start" fill="#000" stroke="#000" stroke-width="0.4" font-style="italic">Siwaliks</text>
<text x="466.70" y="434.60" font-size="11.7" text-anchor="start" fill="#f5160a" stroke="#f5160a" stroke-width="0.4">UCC</text>
<text x="527.90" y="419.80" font-size="11.7" text-anchor="start" fill="#000" stroke="#000" stroke-width="0.4" font-style="italic">Higher Himalaya</text>
<text x="557.80" y="356.50" font-size="11.7" text-anchor="start" fill="#000" stroke="#000" stroke-width="0.4" font-style="italic">Lesser Himalaya</text>
</svg></body></html>
